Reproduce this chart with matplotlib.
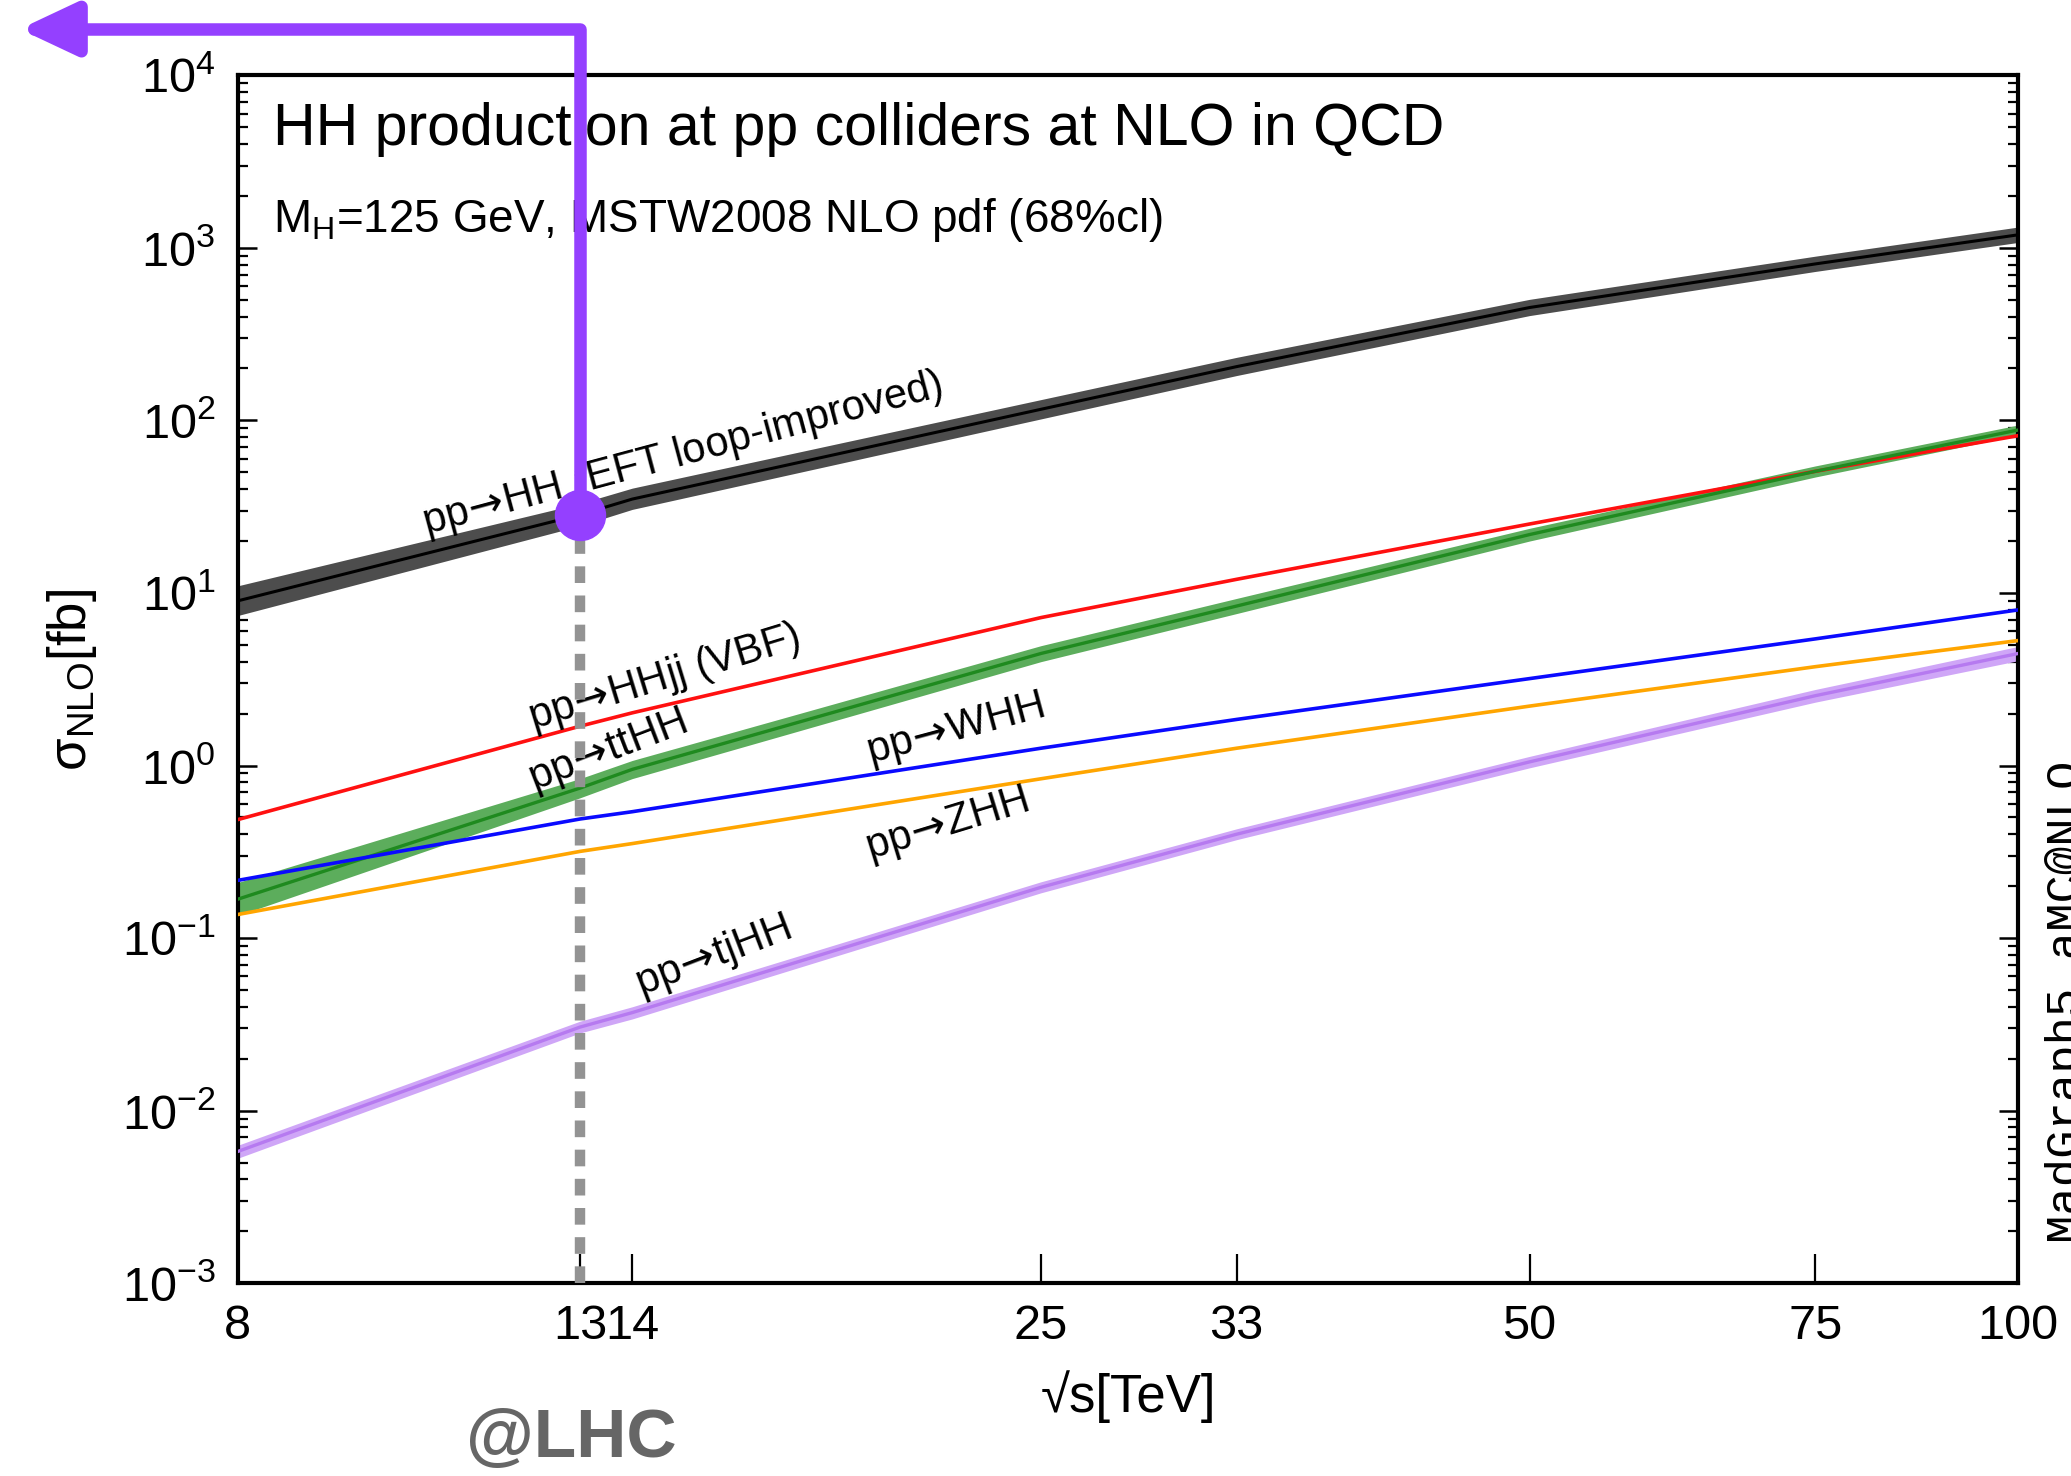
import matplotlib
matplotlib.use("Agg")
import matplotlib.pyplot as plt
from matplotlib.ticker import FixedLocator, FixedFormatter, LogLocator, NullLocator

plt.rcParams["font.family"] = ["Liberation Sans", "DejaVu Sans"]
plt.rcParams["mathtext.fontset"] = "custom"
plt.rcParams["mathtext.rm"] = "Liberation Sans"
plt.rcParams["mathtext.it"] = "Liberation Sans:italic"
plt.rcParams["mathtext.bf"] = "Liberation Sans:bold"
plt.rcParams["axes.unicode_minus"] = False

# collider energies (TeV)
sqrt_s = [8, 13, 14, 25, 33, 50, 75, 100]
x_ticks = [8, 13, 14, 25, 33, 50, 75, 100]
x_tick_labels = ["8", "13", "14", "25", "33", "50", "75", "100"]

# cross sections in fb
hh = [9.0, 28.4, 35.0, 116, 205, 451, 807, 1190]
hh_lo = [7.4, 24.5, 30.5, 102, 182, 405, 730, 1075]
hh_hi = [11.0, 33.0, 40.5, 132, 232, 503, 895, 1320]

vbf = [0.486, 1.69, 2.02, 7.2, 12.0, 25.1, 50.7, 81.6]

tthh = [0.168, 0.74, 0.95, 4.46, 8.4, 21.8, 50.7, 88.0]
tthh_lo = [0.135, 0.65, 0.84, 4.0, 7.6, 20.0, 47.0, 82.0]
tthh_hi = [0.21, 0.84, 1.07, 4.95, 9.3, 23.7, 54.5, 94.0]

whh = [0.216, 0.49, 0.54, 1.26, 1.85, 3.19, 5.42, 7.98]
zhh = [0.137, 0.318, 0.353, 0.838, 1.26, 2.21, 3.74, 5.3]

tjhh = [0.0058, 0.0305, 0.037, 0.197, 0.40, 1.05, 2.54, 4.46]
tjhh_lo = [0.0053, 0.0282, 0.034, 0.183, 0.372, 0.97, 2.33, 4.05]
tjhh_hi = [0.0063, 0.033, 0.040, 0.212, 0.43, 1.13, 2.76, 4.9]

lhc_energy = 13
lhc_index = sqrt_s.index(lhc_energy)

purple = "#9440ff"

fig = plt.figure(figsize=(20.71, 14.76), dpi=100)
ax = fig.add_axes([0.1148, 0.1306, 0.8597, 0.8184])
ax.set_xscale("log")
ax.set_yscale("log")
ax.set_xlim(8, 100)
ax.set_ylim(1e-3, 1e4)

# bands + central lines
ax.fill_between(sqrt_s, hh_lo, hh_hi, color="#4d4d4d", lw=0, zorder=2)
ax.plot(sqrt_s, hh, color="black", lw=2.2, zorder=3)

ax.plot(sqrt_s, vbf, color="#ff1010", lw=2.6, zorder=3)

ax.fill_between(sqrt_s, tthh_lo, tthh_hi, color="#5cad5c", lw=0, zorder=2)
ax.plot(sqrt_s, tthh, color="#1f8a1f", lw=2.4, zorder=3)

ax.plot(sqrt_s, whh, color="#0a0aff", lw=2.6, zorder=3)
ax.plot(sqrt_s, zhh, color="#ffa500", lw=2.6, zorder=3)

ax.fill_between(sqrt_s, tjhh_lo, tjhh_hi, color="#cfa6f7", lw=0, zorder=2)
ax.plot(sqrt_s, tjhh, color="#b67af0", lw=2.4, zorder=3)

# process labels
lab = dict(transform=ax.transAxes, fontsize=30, ha="center", va="center",
           zorder=4, math_fontfamily="dejavusans")
arr = r"$\!{\rightarrow}\!$"
ax.text(0.250, 0.686, "pp" + arr + "HH (EFT loop-improved)", rotation=15, **lab)
ax.text(0.2396, 0.5016, "pp" + arr + "HHjj (VBF)", rotation=17, **lab)
ax.text(0.2077, 0.4404, "pp" + arr + "ttHH", rotation=21, **lab)
ax.text(0.4028, 0.4579, "pp" + arr + "WHH", rotation=15, **lab)
ax.text(0.3984, 0.3792, "pp" + arr + "ZHH", rotation=17, **lab)
ax.text(0.267, 0.271, "pp" + arr + "tjHH", rotation=21, **lab)

ax.text(0.02, 0.942, "HH production at pp colliders at NLO in QCD",
        transform=ax.transAxes, fontsize=42.5, ha="left", va="baseline")
ax.text(0.02, 0.870, r"M$_{\rm H}$=125 GeV, MSTW2008 NLO pdf (68%cl)",
        transform=ax.transAxes, fontsize=33, ha="left", va="baseline")

# axes styling
ax.xaxis.set_major_locator(FixedLocator(x_ticks))
ax.xaxis.set_major_formatter(FixedFormatter(x_tick_labels))
ax.xaxis.set_minor_locator(NullLocator())
ax.yaxis.set_major_locator(LogLocator(base=10, numticks=20))
ax.yaxis.set_minor_locator(LogLocator(base=10, subs=range(2, 10), numticks=20))
ax.tick_params(axis="x", which="major", direction="in", length=21, width=1.6,
               labelsize=35, pad=15, top=False)
ax.tick_params(axis="y", which="major", direction="in", length=14, width=1.8,
               labelsize=35, pad=16, right=True)
ax.tick_params(axis="y", which="minor", direction="in", length=7, width=1.6, right=True)
for s in ax.spines.values():
    s.set_linewidth(3)

fig.text(0.0348, 0.539, "σ$_{\\rm NLO}$[fb]", rotation=90, fontsize=38,
         ha="center", va="center")
fig.text(0.545, 0.0537, "√s[TeV]", fontsize=38, ha="center", va="center")
fig.text(0.9862, 0.323, "MadGraph5_aMC@NLO", family="Liberation Mono",
         rotation=90, fontsize=34, ha="left", va="center")

# LHC marker
ax.plot([lhc_energy, lhc_energy], [1e-3, hh[lhc_index]], color="#939393", lw=7.5,
        dashes=(1.6, 1.2), zorder=5, clip_on=False)
ax.plot([lhc_energy], [hh[lhc_index]], "o", color=purple, ms=36, zorder=7, clip_on=False)
ax.annotate("", xy=(0.0095, 0.9803), xycoords="figure fraction",
            xytext=(lhc_energy, hh[lhc_index]), textcoords="data",
            arrowprops=dict(arrowstyle="-|>,head_length=3.4,head_width=1.6",
                            connectionstyle="angle,angleA=90,angleB=0,rad=0",
                            color=purple, lw=9, shrinkA=0, shrinkB=0),
            zorder=6, annotation_clip=False)
fig.text(0.276, 0.025, "@LHC", fontsize=50, fontweight="bold", color="#666666",
         ha="center", va="center")

fig.savefig("out.png", dpi=100)
